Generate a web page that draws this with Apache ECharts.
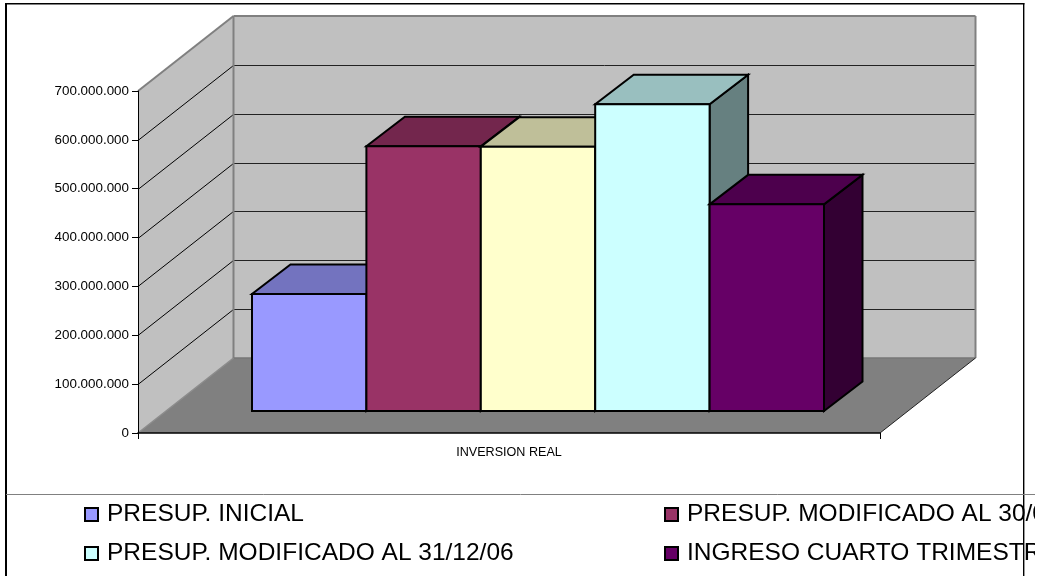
<!DOCTYPE html>
<html><head><meta charset="utf-8">
<style>html,body{margin:0;padding:0;background:#fff}#c{width:1038px;height:576px}</style>
<script src="https://cdn.jsdelivr.net/npm/echarts@6/dist/echarts.min.js"></script>
</head><body><div id="c"></div>
<script>
const categories = ['INVERSION REAL'];
const seriesNames = ['PRESUP. INICIAL','PRESUP. MODIFICADO AL 30/09/06','PRESUP. REAL','PRESUP. MODIFICADO AL 31/12/06','INGRESO CUARTO TRIMESTRE'];
const presupInicial = [239500000];
const presupMod30 = [542000000];
const presupReal = [541000000];
const presupMod31 = [627700000];
const ingresoCuarto = [423000000];
const seriesValues = [presupInicial, presupMod30, presupReal, presupMod31, ingresoCuarto];
const seriesColors = ['#9999FF','#993366','#FFFFCC','#CCFFFF','#660066'];
const yTicks = [0,100000000,200000000,300000000,400000000,500000000,600000000,700000000];

const DX = 95.5, DY = -75;       // wall depth
const BX = 38.5, BY = -29.5;     // bar depth
const FY = -22;                  // bar offset from the front of the floor
const BAR_FRAC = 114.4 / 742;    // bar width / band width
const GROUP_SHIFT = 29;

function shade(hex, k){
  const n = parseInt(hex.slice(1),16);
  const c = [n>>16&255,n>>8&255,n&255].map(v=>Math.round(v*k));
  return 'rgb('+c.join(',')+')';
}
function poly(points, fill, stroke, lw){
  return {type:'polygon',shape:{points},style:{fill,stroke,lineWidth:lw,lineJoin:'miter'}};
}
function line(x1,y1,x2,y2,stroke,lw){
  return {type:'line',shape:{x1,y1,x2,y2},style:{stroke,lineWidth:lw}};
}
function renderWalls(params, api){
  const band = api.size([1,0])[0];
  const c0 = api.coord([0,0]);
  const cT = api.coord([0,yTicks[yTicks.length-1]]);
  const l = c0[0]-band/2, r = c0[0]+band/2, b = c0[1], t = cT[1];
  const ch = [];
  ch.push(poly([[l+DX,t+DY],[r+DX,t+DY],[r+DX,b+DY],[l+DX,b+DY]],'#C0C0C0','none',0));
  ch.push(poly([[l,t],[l+DX,t+DY],[l+DX,b+DY],[l,b]],'#C0C0C0','none',0));
  ch.push(poly([[l,b],[l+DX,b+DY],[r+DX,b+DY],[r,b]],'#808080','none',0));
  yTicks.slice(1,-1).forEach(v=>{
    const y = Math.round(api.coord([0,v])[1])+0.5;
    ch.push(line(l,y,l+DX,y+DY,'#000',1));
    ch.push(line(l+DX,y+DY,r+DX,y+DY,'#222',1));
  });
  ch.push(line(l,t,l+DX,t+DY,'#808080',2));
  ch.push(line(l+DX,t+DY,r+DX,t+DY,'#808080',2));
  ch.push(line(l+DX,t+DY,l+DX,b+DY,'#808080',2));
  ch.push(line(r+DX,t+DY,r+DX,b+DY,'#808080',2));
  ch.push(line(l+DX,b+DY,r+DX,b+DY,'#777',1.5));
  ch.push(line(l,b,l+DX,b+DY,'#8c8c8c',1.5));
  ch.push(line(r,b,r+DX,b+DY,'#222',1));
  return {type:'group',children:ch};
}
function renderBar(params, api){
  const i = params.seriesIndex-1;
  const band = api.size([1,0])[0];
  const w = band*BAR_FRAC;
  const c0 = api.coord([api.value(0),0]);
  const cV = api.coord([api.value(0),api.value(1)]);
  const left = c0[0]+GROUP_SHIFT+(i-seriesNames.length/2)*w, right = left+w;
  const bot = c0[1]+FY, top = cV[1]+FY;
  const col = seriesColors[i];
  return {type:'group',children:[
    poly([[right,top],[right+BX,top+BY],[right+BX,bot+BY],[right,bot]],shade(col,0.5),'#000',2),
    poly([[left,top],[right,top],[right+BX,top+BY],[left+BX,top+BY]],shade(col,0.75),'#000',2),
    poly([[left,top],[right,top],[right,bot],[left,bot]],col,'#000',2)
  ]};
}
const fmt = v => String(v).replace(/\B(?=(\d{3})+(?!\d))/g,'.');
const legendPos = [
  {name:seriesNames[0],left:84,top:502},
  {name:seriesNames[1],left:664,top:502},
  {name:seriesNames[3],left:84,top:541},
  {name:seriesNames[4],left:664,top:541}
];
const legends = legendPos.map(p=>({
  show:true,data:[p.name],left:p.left,top:p.top,orient:'horizontal',padding:0,selectedMode:false,
  icon:'rect',itemWidth:13,itemHeight:13,
  itemStyle:{borderColor:'#000',borderWidth:2},
  textStyle:{fontFamily:'Liberation Sans',fontSize:24.5,color:'#000',padding:[1,0,0,4]}
}));
const series = [{
  type:'custom',name:'walls',coordinateSystem:'cartesian2d',renderItem:renderWalls,
  data:[[0,0]],silent:true,clip:false,z:1
}].concat(seriesNames.map((n,i)=>({
  type:'custom',name:n,coordinateSystem:'cartesian2d',renderItem:renderBar,clip:false,z:2+i,
  itemStyle:{color:seriesColors[i]},
  encode:{x:0,y:1},
  data:seriesValues[i].map((v,k)=>[k,v])
})));
const chart = echarts.init(document.getElementById('c'),null,{renderer:'canvas'});
chart.setOption({
  animation:false,backgroundColor:'#fff',
  grid:{left:138,width:742,top:91,height:342,containLabel:false},
  legend:legends,
  xAxis:{type:'category',data:categories,boundaryGap:true,
    axisLine:{lineStyle:{color:'#000',width:1.5}},
    axisTick:{show:true,length:6,lineStyle:{color:'#000'}},
    axisLabel:{margin:13,fontFamily:'Liberation Sans',fontSize:12.6,color:'#000'},
    splitLine:{show:false},z:10},
  yAxis:{type:'value',min:0,max:700000000,interval:100000000,
    axisLine:{show:true,lineStyle:{color:'#000',width:1}},
    axisTick:{show:true,length:6,lineStyle:{color:'#000'}},
    axisLabel:{margin:9,fontFamily:'Liberation Sans',fontSize:13.4,color:'#000',formatter:fmt,padding:[2,0,0,0]},
    splitLine:{show:false},z:10},
  series,
  graphic:[
    {type:'rect',shape:{x:1035,y:496,width:4,height:80},style:{fill:'#fff'},z:100},
    {type:'line',shape:{x1:5,y1:3.7,x2:1024.4,y2:3.7},style:{stroke:'#000',lineWidth:1.4},z:101},
    {type:'line',shape:{x1:6,y1:3,x2:6,y2:576},style:{stroke:'#000',lineWidth:2},z:101},
    {type:'line',shape:{x1:1023.7,y1:3,x2:1023.7,y2:576},style:{stroke:'#000',lineWidth:1.4},z:101},
    {type:'line',shape:{x1:6,y1:494.5,x2:1035,y2:494.5},style:{stroke:'#808080',lineWidth:1},z:101}
  ]
});
</script></body></html>
